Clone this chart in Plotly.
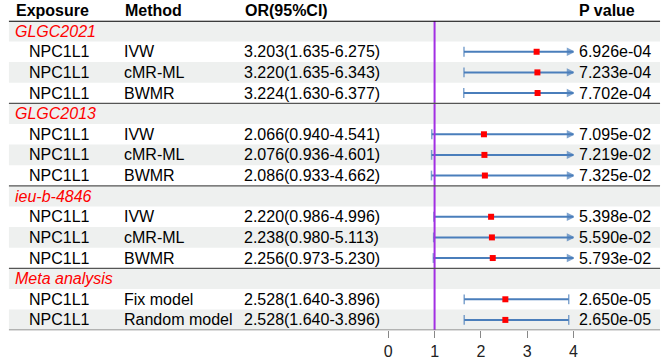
import plotly.graph_objects as go

# ---------------- data ----------------
groups = ["GLGC2021", "GLGC2013", "ieu-b-4846", "Meta analysis"]
row_group = ["GLGC2021"] * 3 + ["GLGC2013"] * 3 + ["ieu-b-4846"] * 3 + ["Meta analysis"] * 2
exposure = ["NPC1L1"] * 11
methods = ["IVW", "cMR-ML", "BWMR",
           "IVW", "cMR-ML", "BWMR",
           "IVW", "cMR-ML", "BWMR",
           "Fix model", "Random model"]
or_vals = [3.203, 3.220, 3.224,
           2.066, 2.076, 2.086,
           2.220, 2.238, 2.256,
           2.528, 2.528]
lower = [1.635, 1.635, 1.630,
         0.940, 0.936, 0.933,
         0.986, 0.980, 0.973,
         1.640, 1.640]
upper = [6.275, 6.343, 6.377,
         4.541, 4.601, 4.662,
         4.996, 5.113, 5.230,
         3.896, 3.896]
p_text = ["6.926e-04", "7.233e-04", "7.702e-04",
          "7.095e-02", "7.219e-02", "7.325e-02",
          "5.398e-02", "5.590e-02", "5.793e-02",
          "2.650e-05", "2.650e-05"]
headers = ["Exposure", "Method", "OR(95%CI)", "P value"]
tick_vals = [0, 1, 2, 3, 4]
x_max = 4
ref_line = 1

# ---------------- layout constants ----------------
W, H = 669, 360
FONT = "Liberation Sans, Arial, sans-serif"
FS = 16
BLUE = "#4a7ebb"
PURPLE = "#a22fe3"
BAND = "#eef0ef"

def px(x):
    return x / W

# Build rows: group header row then data rows
rows = []  # (kind, index)
for g in groups:
    rows.append(("group", g))
    for i, rg in enumerate(row_group):
        if rg == g:
            rows.append(("data", i))
n_rows = len(rows)

fig = go.Figure()
annotations = []
shapes = []

# background bands
for r in range(1, n_rows + 1, 2):
    shapes.append(dict(type="rect", xref="paper", yref="y",
                       x0=px(5), x1=px(665), y0=r - 0.5, y1=r + 0.5,
                       fillcolor=BAND, line=dict(width=0), layer="below"))

# header texts
hdr_x = [10, 121, 242, 581]
for h, x in zip(headers, hdr_x):
    annotations.append(dict(text="<b>%s</b>" % h, xref="paper", yref="paper",
                            x=px(x), y=1 - 10.5 / H, xanchor="left", yanchor="middle",
                            showarrow=False, font=dict(family=FONT, size=FS, color="black")))

# rows
for r, (kind, val) in enumerate(rows, start=1):
    if kind == "group":
        annotations.append(dict(text="<i>%s</i>" % val, xref="paper", yref="y",
                                x=px(9), y=r, xanchor="left", yanchor="middle",
                                showarrow=False, font=dict(family=FONT, size=FS, color="#ff0000")))
        continue
    i = val
    cols = [(23, exposure[i]), (120, methods[i]),
            (241, "%.3f(%.3f-%.3f)" % (or_vals[i], lower[i], upper[i])),
            (581, p_text[i])]
    for x, t in cols:
        annotations.append(dict(text=t, xref="paper", yref="y",
                                x=px(x), y=r, xanchor="left", yanchor="middle",
                                showarrow=False, font=dict(family=FONT, size=FS, color="black")))
    hi = min(upper[i], x_max)
    end_sym = "arrow-right" if upper[i] > x_max else "line-ns"
    fig.add_trace(go.Scatter(
        x=[lower[i], hi], y=[r, r], mode="lines+markers",
        line=dict(color=BLUE, width=2),
        marker=dict(symbol=["line-ns", end_sym], size=[7, 7] if end_sym == "line-ns" else [7, 6],
                    color=BLUE, line=dict(color=BLUE, width=1.5)),
        showlegend=False, hoverinfo="skip", cliponaxis=False))

# reference line at OR = 1
fig.add_trace(go.Scatter(x=[ref_line, ref_line], y=[0.5, n_rows + 0.5], mode="lines",
                         line=dict(color=PURPLE, width=2), showlegend=False,
                         hoverinfo="skip", cliponaxis=False))

# point estimates
data_rows = [r for r, (k, v) in enumerate(rows, start=1) if k == "data"]
data_idx = [v for (k, v) in rows if k == "data"]
fig.add_trace(go.Scatter(x=[or_vals[i] for i in data_idx], y=data_rows, mode="markers",
                         marker=dict(symbol="square", size=6, color="#ff0000"),
                         showlegend=False, cliponaxis=False))

# lines: header, separators, bottom
shapes.append(dict(type="line", xref="paper", yref="y", x0=px(5), x1=px(665),
                   y0=0.5, y1=0.5, line=dict(color="black", width=2)))
for r, (kind, val) in enumerate(rows, start=1):
    if kind == "group" and r > 1:
        shapes.append(dict(type="line", xref="paper", yref="y", x0=px(5), x1=px(665),
                           y0=r - 0.5, y1=r - 0.5, line=dict(color="#555555", width=1.2)))
shapes.append(dict(type="line", xref="paper", yref="y", x0=px(5), x1=px(665),
                   y0=n_rows + 0.5, y1=n_rows + 0.5, line=dict(color="#777777", width=1.5)))

fig.update_layout(
    width=W, height=H, margin=dict(l=0, r=0, t=0, b=0),
    paper_bgcolor="white", plot_bgcolor="rgba(0,0,0,0)",
    annotations=annotations, shapes=shapes,
    xaxis=dict(domain=[389.5 / W, 577.3 / W], range=[0, x_max], tickvals=tick_vals,
               ticks="outside", ticklen=7, tickcolor="#888888", tickwidth=1.2,
               showgrid=False, zeroline=False, showline=False,
               tickfont=dict(family=FONT, size=FS, color="#222222")),
    yaxis=dict(domain=[(H - 333) / H, (H - 21) / H], range=[n_rows + 0.5, 0.5],
               visible=False),
)

fig.write_html("out.html", config={"displayModeBar": False},
               post_script="document.body.style.margin='0';document.body.style.padding='0';"
                           "document.documentElement.style.overflow='hidden';")
